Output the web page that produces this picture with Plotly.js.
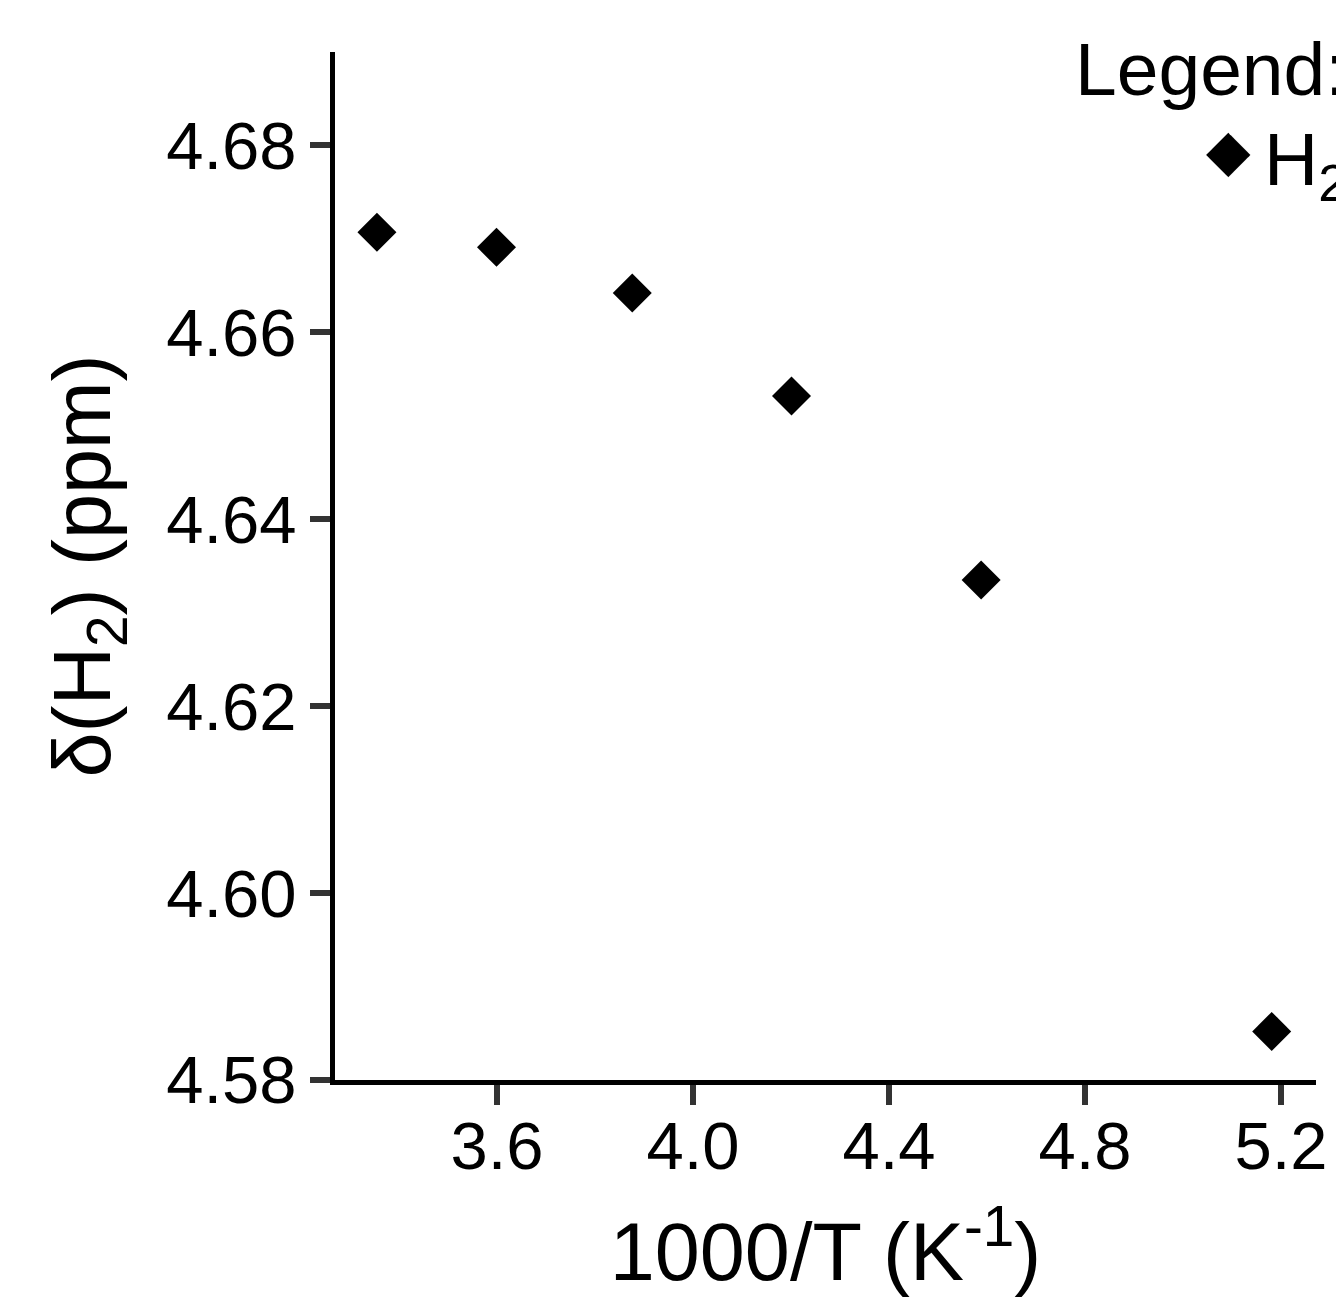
<!DOCTYPE html>
<html>
<head>
<meta charset="utf-8">
<script src="https://cdn.plot.ly/plotly-3.0.1.min.js"></script>
<style>
  html, body { margin: 0; padding: 0; background: #ffffff; }
  #chart { width: 1336px; height: 1300px; }
</style>
</head>
<body>
<div id="chart"></div>
<script>
// Data
const invTemperature = [3.355, 3.599, 3.876, 4.201, 4.588, 5.181];   // 1000/T (K^-1)
const shiftH2 = [4.6707, 4.6691, 4.6642, 4.6532, 4.6335, 4.5852];    // δ(H2) (ppm)
const seriesName = 'H<sub>2</sub>';
const xTickVals = [3.6, 4.0, 4.4, 4.8, 5.2];
const xTickText = ['3.6', '4.0', '4.4', '4.8', '5.2'];
const yTickVals = [4.58, 4.60, 4.62, 4.64, 4.66, 4.68];
const yTickText = ['4.58', '4.60', '4.62', '4.64', '4.66', '4.68'];

const FONT = 'Liberation Sans, Arial, Helvetica, sans-serif';

const trace = {
  x: invTemperature,
  y: shiftH2,
  type: 'scatter',
  mode: 'markers',
  name: seriesName,
  showlegend: false,
  marker: { symbol: 'diamond', size: 30, color: '#000000', line: { width: 0 } },
  cliponaxis: false
};

const layout = {
  width: 1336,
  height: 1300,
  paper_bgcolor: '#ffffff',
  plot_bgcolor: '#ffffff',
  font: { family: FONT, color: '#000000', size: 67 },
  margin: { l: 335, r: 20, t: 52, b: 220, autoexpand: false },
  showlegend: false,
  xaxis: {
    range: [3.2694, 5.2714],
    tickmode: 'array',
    tickvals: xTickVals,
    ticktext: xTickText,
    showgrid: false,
    zeroline: false,
    showline: true,
    linecolor: '#000000',
    linewidth: 5,
    ticks: 'outside',
    ticklen: 20,
    tickwidth: 6,
    tickcolor: '#333333',
    ticklabelstandoff: -16,
    tickfont: { family: FONT, size: 67, color: '#000000' },
    title: { text: '1000/T (K<sup>-1</sup>)', font: { family: FONT, size: 81, color: '#000000' }, standoff: 42 }
  },
  yaxis: {
    range: [4.58, 4.69],
    tickmode: 'array',
    tickvals: yTickVals,
    ticktext: yTickText,
    showgrid: false,
    zeroline: false,
    showline: true,
    linecolor: '#000000',
    linewidth: 5,
    ticks: 'outside',
    ticklen: 20,
    tickwidth: 6,
    tickcolor: '#333333',
    tickfont: { family: FONT, size: 67, color: '#000000' },
    title: { text: 'δ(H<sub>2</sub>) (ppm)', font: { family: FONT, size: 81, color: '#000000' }, standoff: 30 }
  },
  annotations: [
    {
      text: 'Legend:',
      xref: 'paper', yref: 'paper',
      x: (1073 - 335) / 981, y: 1 + (52 - 25) / 1028,
      xanchor: 'left', yanchor: 'top',
      showarrow: false,
      font: { family: FONT, size: 75, color: '#000000' }
    },
    {
      text: '◆',
      xref: 'paper', yref: 'paper',
      x: (1228 - 335) / 981, y: 1 - (150 - 52) / 1028,
      xanchor: 'center', yanchor: 'middle',
      showarrow: false,
      font: { family: 'DejaVu Sans', size: 58, color: '#000000' }
    },
    {
      text: seriesName,
      xref: 'paper', yref: 'paper',
      x: (1262 - 335) / 981, y: 1 - (115 - 52) / 1028,
      xanchor: 'left', yanchor: 'top',
      showarrow: false,
      font: { family: FONT, size: 75, color: '#000000' }
    }
  ]
};

Plotly.newPlot('chart', [trace], layout, { displayModeBar: false, staticPlot: true });
</script>
</body>
</html>
